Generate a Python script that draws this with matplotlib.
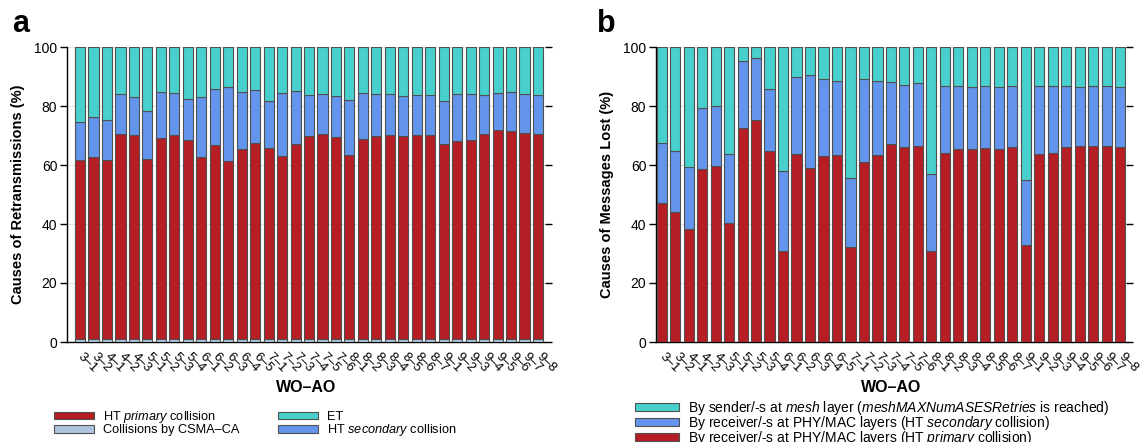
import matplotlib
matplotlib.use("Agg")
import matplotlib.pyplot as plt
import numpy as np
from matplotlib.patches import Patch

plt.rcParams['font.family'] = ['Liberation Sans', 'DejaVu Sans']
plt.rcParams['mathtext.fontset'] = 'custom'
plt.rcParams['mathtext.rm'] = 'Liberation Sans'
plt.rcParams['mathtext.it'] = 'Liberation Sans:italic'
plt.rcParams['mathtext.bf'] = 'Liberation Sans:bold'

categories = ["3–1", "3–2", "4–1", "4–2", "4–3", "5–1", "5–2", "5–3", "5–4",
              "6–1", "6–2", "6–3", "6–4", "6–5", "7–1", "7–2", "7–3", "7–4",
              "7–5", "7–6", "8–1", "8–2", "8–3", "8–4", "8–5", "8–6", "8–7",
              "9–1", "9–2", "9–3", "9–4", "9–5", "9–6", "9–7", "9–8"]

# Panel a: causes of retransmissions (%)
csma_a = [1.0, 1.0, 1.0, 1.0, 1.0, 1.0, 1.0, 1.0, 1.0, 1.0, 1.0, 1.0, 1.0, 1.0, 1.0, 1.0, 1.0, 1.0,
          1.0, 1.0, 1.0, 1.0, 1.0, 1.0, 1.0, 1.0, 1.0, 1.0, 1.0, 1.0, 1.0, 1.0, 1.0, 1.0, 1.0]
primary_a = [60.7, 61.8, 60.7, 69.5, 69.1, 61.1, 68.0, 69.3, 67.4, 61.8, 65.8, 60.2, 64.5, 66.3,
             64.9, 62.1, 66.0, 68.8, 69.4, 68.5, 62.4, 67.7, 68.7, 69.2, 68.9, 69.1, 69.2, 66.0,
             67.2, 67.6, 69.5, 70.8, 70.5, 70.0, 69.6]
secondary_a = [12.8, 13.4, 13.6, 13.6, 13.1, 16.3, 15.6, 14.0, 14.0, 20.1, 19.0, 25.4, 19.4, 18.1,
               15.8, 21.2, 18.1, 14.0, 13.7, 13.9, 18.7, 15.8, 14.4, 13.9, 13.6, 13.6, 13.5, 14.7,
               15.9, 15.5, 13.1, 12.5, 13.1, 13.1, 13.0]
et_a = [25.5, 23.8, 24.7, 15.9, 16.8, 21.6, 15.4, 15.7, 17.6, 17.1, 14.2, 13.4, 15.1, 14.6, 18.3,
        15.7, 14.9, 16.2, 15.9, 16.6, 17.9, 15.5, 15.9, 15.9, 16.5, 16.3, 16.3, 18.3, 15.9, 15.9,
        16.4, 15.7, 15.4, 15.9, 16.4]

# Panel b: causes of messages lost (%)
primary_b = [47.2, 44.2, 38.4, 58.8, 59.8, 40.3, 72.5, 75.1, 64.6, 30.7, 63.7, 59.0, 63.1, 63.3,
             32.3, 61.1, 63.5, 67.2, 66.2, 66.4, 31.0, 64.0, 65.4, 65.4, 65.9, 65.5, 66.0, 32.9,
             63.6, 64.1, 66.2, 66.3, 66.3, 66.3, 66.2]
secondary_b = [20.1, 20.7, 20.8, 20.4, 20.3, 23.3, 22.6, 21.1, 21.2, 27.2, 26.0, 31.4, 25.9, 25.1,
               23.2, 27.9, 24.9, 20.9, 20.9, 21.3, 25.8, 22.8, 21.5, 21.0, 20.8, 20.8, 20.8, 22.0,
               23.1, 22.6, 20.5, 20.1, 20.4, 20.4, 20.2]
sender_b = [32.7, 35.1, 40.8, 20.8, 19.9, 36.4, 4.9, 3.8, 14.2, 42.1, 10.3, 9.6, 11.0, 11.6, 44.5,
            11.0, 11.6, 11.9, 12.9, 12.3, 43.2, 13.2, 13.1, 13.6, 13.3, 13.7, 13.2, 45.1, 13.3,
            13.3, 13.3, 13.6, 13.3, 13.3, 13.6]

C_RED = '#B41E24'
C_BLUE = '#6495ED'
C_TEAL = '#48D1CC'
C_LIGHT = '#B0C4DE'
EDGE = '#505050'

W, H = 1141, 442
fig = plt.figure(figsize=(W / 100, H / 100), dpi=100)

def px_axes(l, r, t, b):
    return fig.add_axes([l / W, 1 - b / H, (r - l) / W, (b - t) / H])

ax_a = px_axes(67, 545, 47, 342)
ax_b = px_axes(656, 1126, 47, 342)

x = np.arange(len(categories))
bw = 0.75
kw = dict(width=bw, edgecolor=EDGE, linewidth=0.8, zorder=3)

def stack(ax, series):
    bottom = np.zeros(len(categories))
    for vals, col in series:
        v = np.array(vals)
        ax.bar(x, v, bottom=bottom, color=col, **kw)
        bottom = bottom + v

stack(ax_a, [(csma_a, C_LIGHT), (primary_a, C_RED), (secondary_a, C_BLUE), (et_a, C_TEAL)])
stack(ax_b, [(primary_b, C_RED), (secondary_b, C_BLUE), (sender_b, C_TEAL)])

ax_a.set_xlim(-0.97, 34.52)
ax_b.set_xlim(-0.42, 34.43)

for ax, ylab, lx in [(ax_a, "Causes of Retransmissions (%)", -0.088),
                     (ax_b, "Causes of Messages Lost (%)", -0.0894)]:
    ax.set_ylim(0, 100)
    ax.set_yticks([0, 20, 40, 60, 80, 100])
    ax.set_axisbelow(True)
    ax.yaxis.grid(True, color='#e2e2e2', linewidth=0.8, zorder=0)
    ax.spines['top'].set_visible(False)
    ax.spines['right'].set_visible(False)
    ax.spines['left'].set_linewidth(1.0)
    ax.spines['bottom'].set_linewidth(1.0)
    ax.tick_params(axis='y', which='both', direction='out', length=5, width=1.0,
                   labelsize=10, pad=2, right=True, labelright=False)
    ax.set_xticks(x)
    ax.set_xticklabels(categories, rotation=-45, ha='left', va='center',
                       rotation_mode='anchor', fontsize=9.5)
    ax.tick_params(axis='x', length=0, pad=9)
    ax.set_ylabel(ylab, fontsize=10.5, fontweight='bold')
    ax.yaxis.set_label_coords(lx, 0.5)
    ax.set_xlabel("WO–AO", fontsize=11.5, fontweight='bold')
    ax.xaxis.set_label_coords(0.5, -0.128)

fig.text(12 / W, 1 - 32 / H, "a", fontsize=22, fontweight='bold', va='baseline')
fig.text(597 / W, 1 - 32 / H, "b", fontsize=22, fontweight='bold', va='baseline')

def ph(c):
    return Patch(facecolor=c, edgecolor=EDGE, linewidth=0.8)

leg_a = fig.legend([ph(C_RED), ph(C_LIGHT), ph(C_TEAL), ph(C_BLUE)],
                   ["HT $\\mathit{primary}$ collision", "Collisions by CSMA–CA",
                    "ET", "HT $\\mathit{secondary}$ collision"],
                   ncol=2, loc='upper left', bbox_to_anchor=(54 / W, 1 - 409 / H),
                   frameon=False, fontsize=9.2, handlelength=3.1, handleheight=0.55,
                   handletextpad=0.75, columnspacing=3.0, labelspacing=-0.05,
                   borderpad=0, borderaxespad=0)

leg_b = fig.legend([ph(C_TEAL), ph(C_BLUE), ph(C_RED)],
                   ["By sender/-s at $\\mathit{mesh}$ layer ($\\mathit{meshMAXNumASESRetries}$ is reached)",
                    "By receiver/-s at PHY/MAC layers (HT $\\mathit{secondary}$ collision)",
                    "By receiver/-s at PHY/MAC layers (HT $\\mathit{primary}$ collision)"],
                   ncol=1, loc='upper left', bbox_to_anchor=(635 / W, 1 - 399 / H),
                   frameon=False, fontsize=10, handlelength=3.2, handleheight=0.5,
                   handletextpad=0.6, labelspacing=-0.22,
                   borderpad=0, borderaxespad=0)

fig.savefig("out.png", dpi=100)
